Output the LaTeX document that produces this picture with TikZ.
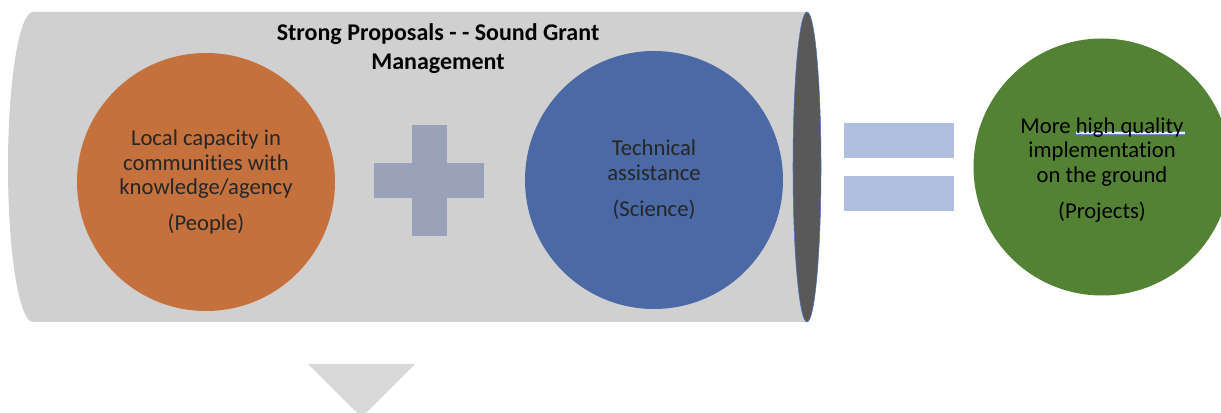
\documentclass[tikz,border=0pt]{standalone}
\usepackage{fontspec}
\setmainfont{Carlito}[Ligatures=NoCommon]
\usepackage{tikz}
\definecolor{cylgray}{HTML}{D0D0D0}
\definecolor{lidgray}{HTML}{595959}
\definecolor{lidline}{HTML}{4472C4}
\definecolor{peopleorange}{HTML}{C4713D}
\definecolor{scienceblue}{HTML}{4A69A5}
\definecolor{projectgreen}{HTML}{548235}
\definecolor{plusgray}{HTML}{9AA2BA}
\definecolor{equalblue}{HTML}{B0BEDF}
\definecolor{chevgray}{HTML}{D9D9D9}
\definecolor{textgray}{HTML}{262626}
\definecolor{gramblue}{HTML}{6A8FD0}

\begin{document}
\begin{tikzpicture}[x=0.75pt,y=-0.75pt,
        bubble/.style={circle, inner sep=0pt, minimum size=193.5pt, align=center,
          text=textgray, font=\fontsize{17}{18.5}\selectfont}]
        	\clip (0,0) rectangle (1221,413);
        	\fill [cylgray] (807,12) -- (33,12) arc [start angle=90, end angle=270, x radius=18.75pt, y radius=116.25pt] -- (807,322) -- cycle;
        	\filldraw [fill=lidgray, draw=lidline, line width=0.4pt] (807,167) ellipse [x radius=10.5pt, y radius=116.25pt];
        	\node [font=\bfseries\fontsize{18}{21.75}\selectfont, align=center] (title) at (438,49) {Strong Proposals - - Sound Grant\\Management};
        	\node [bubble, fill=peopleorange] (people) at (206,182) {Local capacity in\\communities with\\knowledge/agency\\[8.5pt](People)};
        	\node [bubble, fill=scienceblue] (science) at (654,180) {Technical\\assistance\\[8.5pt](Science)};
        	\node [bubble, fill=projectgreen, minimum size=192.75pt] (projects) at (1102,167) {};
        	\fill [white!85!gramblue] (1076,131.8) rectangle (1185,134.2);
        	\draw [gramblue, line width=0.7pt] (1076,131.5) -- (1185,131.5);
        	\draw [gramblue, line width=0.7pt] (1076,134.5) -- (1185,134.5);
        	\node [bubble, text=black] (projtext) at (1102,170) {More high quality\\implementation\\on the ground\\[8.5pt](Projects)};
        	\fill [plusgray] (374,163) rectangle (484,198);
        	\fill [plusgray] (412,125) rectangle (447,236);
        	\fill [equalblue] (844,123) rectangle (954,158);
        	\fill [equalblue] (844,176) rectangle (954,211);
        	\fill [chevgray] (308,364) -- (415,364) -- (368,411) to [out=225, in=-45] (355,411) -- cycle;
        \end{tikzpicture}
\end{document}
